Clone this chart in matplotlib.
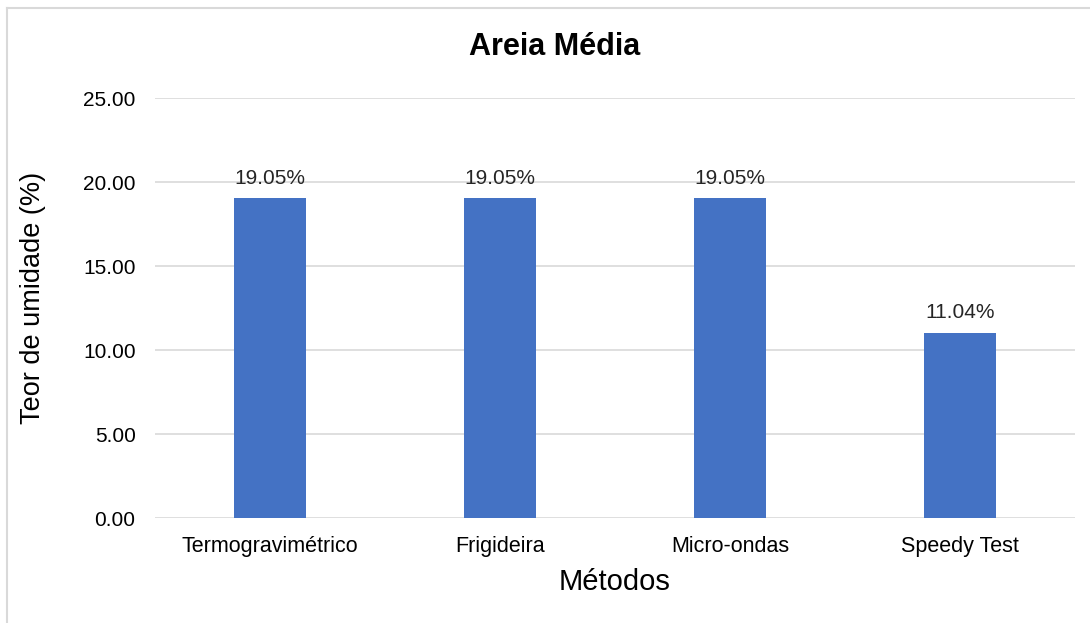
import matplotlib.pyplot as plt
from matplotlib.lines import Line2D

metodos = ["Termogravimétrico", "Frigideira", "Micro-ondas", "Speedy Test"]
teor = [19.05, 19.05, 19.05, 11.04]
rotulos = ["19.05%", "19.05%", "19.05%", "11.04%"]

plt.rcParams["font.family"] = ["Liberation Sans", "DejaVu Sans"]

fig = plt.figure(figsize=(10.9, 6.23), dpi=100)
ax = fig.add_axes([155 / 1090, 1 - 518 / 623, 920 / 1090, 420 / 623])

x = range(len(metodos))
ax.bar(x, teor, width=0.315, color="#4472C4", zorder=3)
for xi, v, lb in zip(x, teor, rotulos):
    ax.text(xi, v + 0.6, lb, ha="center", va="bottom", fontsize=15, color="#262626")

ax.set_xlim(-0.5, 3.5)
ax.set_ylim(0, 25)
ax.set_yticks([0, 5, 10, 15, 20, 25])
ax.set_yticklabels([f"{t:.2f}" for t in [0, 5, 10, 15, 20, 25]])
ax.set_xticks(list(x))
ax.set_xticklabels(metodos)
ax.tick_params(axis="both", length=0, labelsize=15, colors="#000000")
ax.tick_params(axis="x", labelsize=15.5, pad=13)
ax.tick_params(axis="y", pad=14)
ax.grid(axis="y", color="#d9d9d9", linewidth=1.2, zorder=0)
for s in ax.spines.values():
    s.set_visible(False)

ax.set_ylabel("Teor de umidade (%)", fontsize=19.5)
ax.yaxis.set_label_coords(-0.119, 0.525)
ax.set_xlabel("Métodos", fontsize=21, labelpad=8)
fig.text(555 / 1090, 1 - 47 / 623, "Areia Média", ha="center", va="center",
         fontsize=22, fontweight="bold")

# moldura do grafico
fig.add_artist(Line2D([7 / 1090, 7 / 1090], [0, 1 - 8 / 623], color="#d9d9d9", lw=1.5))
fig.add_artist(Line2D([7 / 1090, 1], [1 - 8 / 623, 1 - 8 / 623], color="#d9d9d9", lw=1.5))

fig.savefig("out.png", dpi=100)
